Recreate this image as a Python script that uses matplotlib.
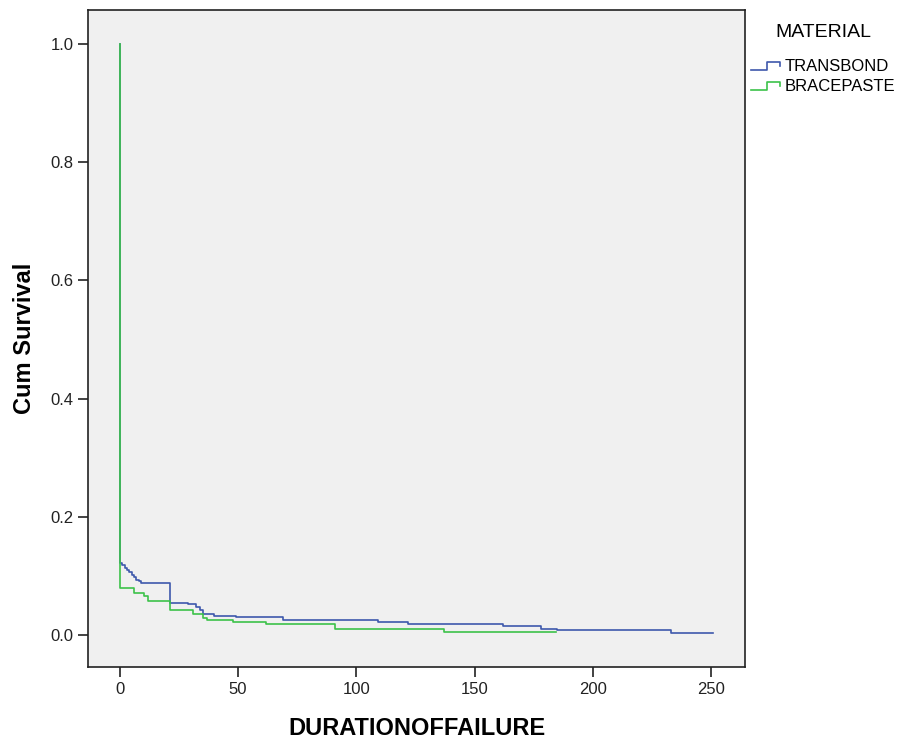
#!/usr/bin python3


# import required libraries
import numpy as np
import matplotlib
matplotlib.use("Agg")
import matplotlib.pyplot as plt
from matplotlib.lines import Line2D
from matplotlib.legend_handler import HandlerBase


# survival curves (step function, values hold until next time)
transbond_time = [0, 0, 1, 2, 3, 4, 5, 6, 7, 8, 9, 21, 29, 32, 34, 35, 40, 49,
                  69, 109, 122, 162, 178, 185, 233, 251]
transbond_surv = [1.0, 0.122, 0.118, 0.114, 0.110, 0.106, 0.102, 0.098, 0.094,
                  0.091, 0.088, 0.055, 0.052, 0.048, 0.042, 0.036, 0.033, 0.030,
                  0.026, 0.022, 0.019, 0.016, 0.011, 0.008, 0.004, 0.004]

bracepaste_time = [0, 0, 6, 10, 12, 21, 31, 35, 37, 48, 62, 91, 137, 184.5]
bracepaste_surv = [1.0, 0.079, 0.071, 0.066, 0.058, 0.042, 0.035, 0.029, 0.025,
                   0.022, 0.019, 0.011, 0.005, 0.005]

groups = ["TRANSBOND", "BRACEPASTE"]
colors = ["#3E58AC", "#3CC24A"]

x_ticks = [0, 50, 100, 150, 200, 250]
y_ticks = [0.0, 0.2, 0.4, 0.6, 0.8, 1.0]


class StepHandler(HandlerBase):
    # legend glyph drawn as a small step
    def create_artists(self, legend, orig_handle, xdescent, ydescent,
                       width, height, fontsize, trans):
        xs = np.array([0.0, 0.5, 0.5, 0.92, 0.92]) * width - xdescent
        ys = np.array([0.15, 0.15, 0.8, 0.8, 0.45]) * height - ydescent
        line = Line2D(xs, ys, color=orig_handle.get_color(),
                      lw=orig_handle.get_linewidth())
        line.set_transform(trans)
        return [line]


def main():
    plt.rcParams["font.family"] = ["Liberation Sans", "DejaVu Sans"]

    fig = plt.figure(figsize=(9, 7.42), dpi=100)
    ax = fig.add_axes([88 / 900, 1 - 667 / 742, (745 - 88) / 900, (667 - 10) / 742])
    ax.set_facecolor("#f0f0f0")

    handles = []
    series = [(transbond_time, transbond_surv), (bracepaste_time, bracepaste_surv)]
    for (t, s), name, c in zip(series, groups, colors):
        h, = ax.step(t, s, where="post", color=c, lw=1.2, label=name)
        handles.append(h)

    ax.set_xlim(-13.5, 264.4)
    ax.set_ylim(-0.054, 1.0575)
    ax.set_xticks(x_ticks)
    ax.set_yticks(y_ticks)
    ax.set_yticklabels(["%.1f" % v for v in y_ticks])
    ax.tick_params(labelsize=12, length=7, width=1.2, colors="#222222")

    for sp in ax.spines.values():
        sp.set_linewidth(1.2)
        sp.set_color("#222222")

    ax.set_xlabel("DURATIONOFFAILURE", fontsize=17, fontweight="bold", labelpad=15)
    ax.set_ylabel("Cum Survival", fontsize=17, fontweight="bold", labelpad=10)

    # legend outside the plot on the right
    leg = fig.legend(handles=handles, labels=groups, loc="upper left",
                     bbox_to_anchor=(743 / 900, 1 - 16 / 742), frameon=False,
                     title="MATERIAL", fontsize=12, title_fontsize=14,
                     handlelength=1.9, handletextpad=0.1, labelspacing=0.3,
                     borderpad=0, handler_map={Line2D: StepHandler()})
    leg._legend_box.sep = 13

    plt.savefig("out.png", dpi=100)


if __name__ == '__main__':
    main()
